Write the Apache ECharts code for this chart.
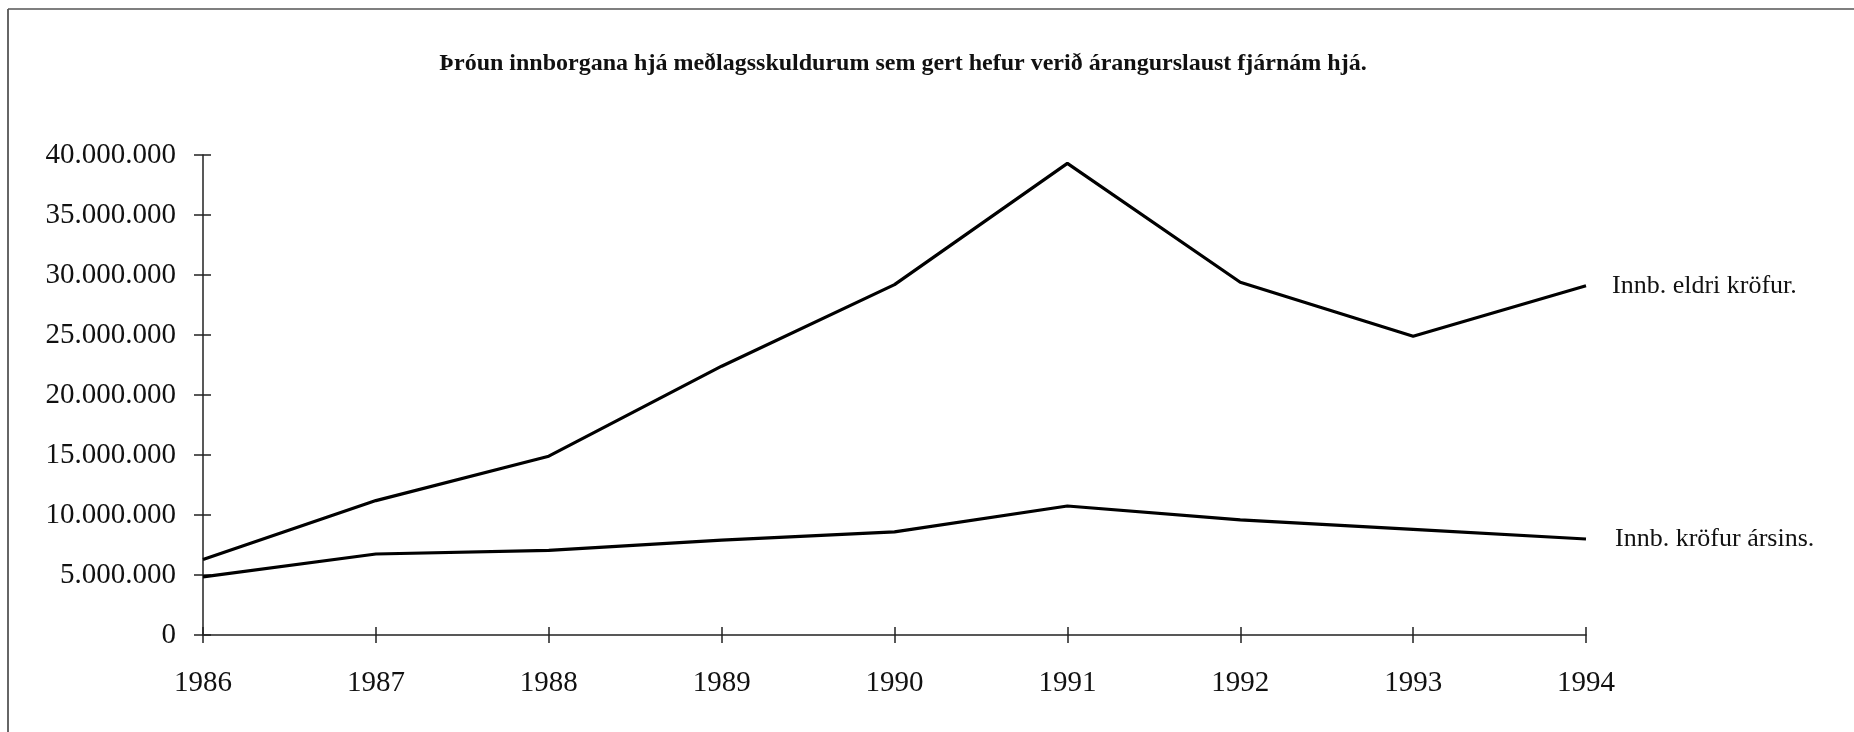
<!DOCTYPE html>
<html>
<head>
<meta charset="utf-8">
<script src="https://cdn.jsdelivr.net/npm/echarts@6/dist/echarts.min.js"></script>
<style>
  html, body { margin: 0; padding: 0; background: #fff; }
  #chart { width: 1854px; height: 732px; }
</style>
</head>
<body>
<div id="chart"></div>
<script>
const years = ['1986', '1987', '1988', '1989', '1990', '1991', '1992', '1993', '1994'];
const eldriKrofur = [6300000, 11200000, 14900000, 22400000, 29200000, 39300000, 29400000, 24900000, 29100000];
const krofurArsins = [4850000, 6750000, 7050000, 7900000, 8600000, 10750000, 9600000, 8800000, 8000000];
const titleText = 'Þróun innborgana hjá meðlagsskuldurum sem gert hefur verið árangurslaust fjárnám hjá.';

const serif = '"Liberation Serif", "DejaVu Serif", serif';

function fmt(v) {
  return String(v).replace(/\B(?=(\d{3})+(?!\d))/g, '.');
}

let myChart = echarts.init(document.getElementById('chart'));

let option = {
  animation: false,
  backgroundColor: '#fff',
  title: {
    text: titleText,
    left: 898,
    top: 47,
    textAlign: 'center',
    textStyle: { fontFamily: serif, fontWeight: 'bold', fontSize: 24, color: '#111' }
  },
  grid: { left: 203, right: 268, top: 155, bottom: 97 },
  xAxis: [
    {
      type: 'category',
      data: years,
      boundaryGap: false,
      axisLine: { lineStyle: { color: '#222', width: 1.5 } },
      axisTick: { show: true, length: 8, lineStyle: { color: '#222', width: 1.5 } },
      axisLabel: { fontFamily: serif, fontSize: 29, color: '#111', margin: 34 },
      splitLine: { show: false }
    },
    {
      type: 'category',
      data: years,
      boundaryGap: false,
      position: 'bottom',
      axisLine: { show: false },
      axisTick: { show: true, inside: true, length: 8, lineStyle: { color: '#222', width: 1.5 } },
      axisLabel: { show: false },
      splitLine: { show: false }
    }
  ],
  yAxis: [
    {
      type: 'value',
      min: 0,
      max: 40000000,
      interval: 5000000,
      axisLine: { show: true, lineStyle: { color: '#222', width: 1.5 } },
      axisTick: { show: true, length: 9, lineStyle: { color: '#222', width: 1.5 } },
      axisLabel: { fontFamily: serif, fontSize: 29, color: '#111', margin: 27, formatter: fmt },
      splitLine: { show: false }
    },
    {
      type: 'value',
      min: 0,
      max: 40000000,
      interval: 5000000,
      position: 'left',
      axisLine: { show: false },
      axisTick: { show: true, inside: true, length: 8, lineStyle: { color: '#222', width: 1.5 } },
      axisLabel: { show: false },
      splitLine: { show: false }
    }
  ],
  series: [
    {
      name: 'Innb. eldri kröfur.',
      type: 'line',
      data: eldriKrofur,
      symbol: 'none',
      lineStyle: { color: '#000', width: 3.2 },
      endLabel: {
        show: true,
        formatter: '{a}',
        distance: 26,
        fontFamily: serif,
        fontSize: 26,
        color: '#111'
      }
    },
    {
      name: 'Innb. kröfur ársins.',
      type: 'line',
      data: krofurArsins,
      symbol: 'none',
      lineStyle: { color: '#000', width: 3.2 },
      endLabel: {
        show: true,
        formatter: '{a}',
        distance: 29,
        fontFamily: serif,
        fontSize: 26,
        color: '#111'
      }
    }
  ],
  graphic: [
    { type: 'line', shape: { x1: 8, y1: 9, x2: 8, y2: 732 }, style: { stroke: '#333', lineWidth: 1.5 } },
    { type: 'line', shape: { x1: 8, y1: 9, x2: 1854, y2: 9 }, style: { stroke: '#555', lineWidth: 1.5 } }
  ]
};

myChart.setOption(option);
window.onresize = myChart.resize;
</script>
</body>
</html>
